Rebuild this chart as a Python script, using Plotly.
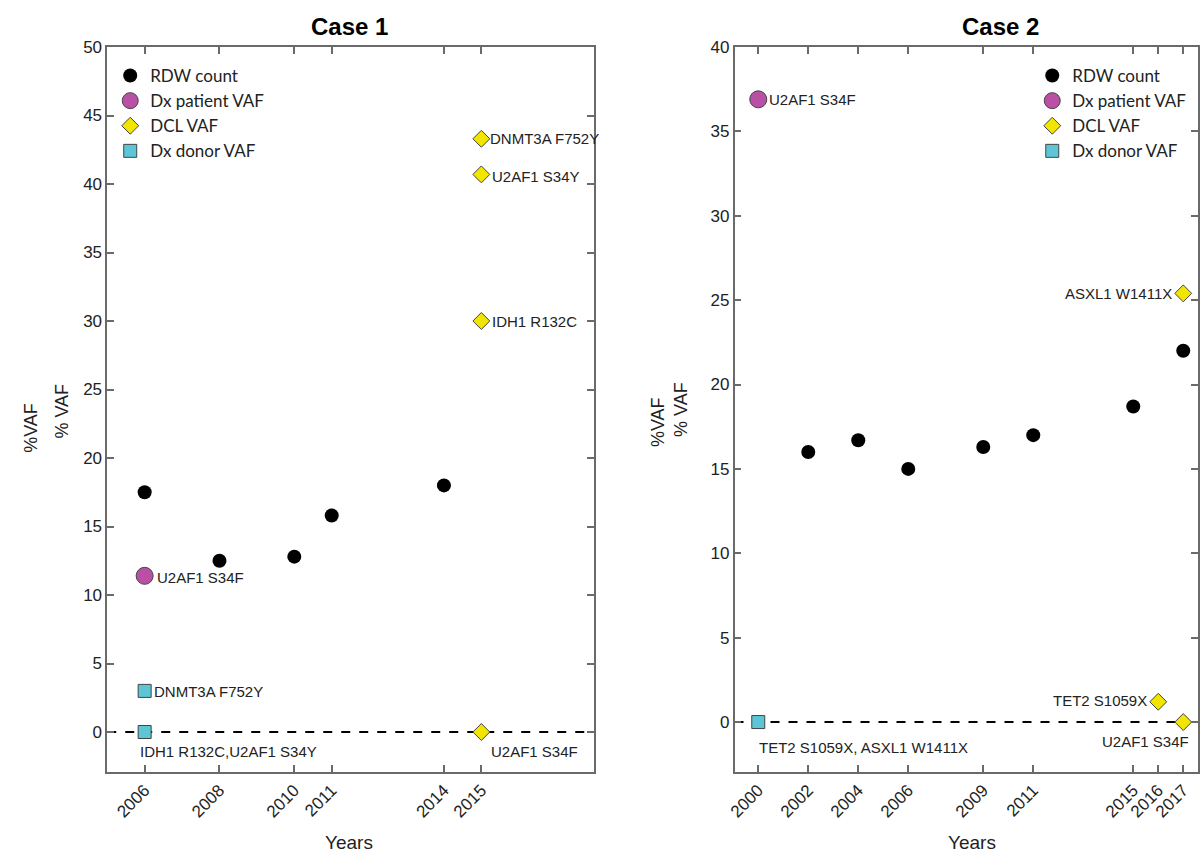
import plotly.graph_objects as go

# ---------------- Case 1 data ----------------
c1_rdw_years = [2006, 2008, 2010, 2011, 2014]
c1_rdw_vals = [17.5, 12.5, 12.8, 15.8, 18.0]
c1_pat_years = [2006]
c1_pat_vals = [11.4]
c1_pat_labels = ["U2AF1 S34F"]
c1_dcl_years = [2015, 2015, 2015, 2015]
c1_dcl_vals = [43.3, 40.7, 30.0, 0.0]
c1_dcl_labels = ["DNMT3A F752Y", "U2AF1 S34Y", "IDH1 R132C", "U2AF1 S34F"]
c1_don_years = [2006, 2006]
c1_don_vals = [3.0, 0.0]
c1_don_labels = ["DNMT3A F752Y", "IDH1 R132C,U2AF1 S34Y"]
c1_ticks = [2006, 2008, 2010, 2011, 2014, 2015]

# ---------------- Case 2 data ----------------
c2_rdw_years = [2002, 2004, 2006, 2009, 2011, 2015, 2017]
c2_rdw_vals = [16.0, 16.7, 15.0, 16.3, 17.0, 18.7, 22.0]
c2_pat_years = [2000]
c2_pat_vals = [36.9]
c2_pat_labels = ["U2AF1 S34F"]
c2_dcl_years = [2017, 2016, 2017]
c2_dcl_vals = [25.4, 1.2, 0.0]
c2_dcl_labels = ["ASXL1 W1411X", "TET2 S1059X", "U2AF1 S34F"]
c2_don_years = [2000]
c2_don_vals = [0.0]
c2_don_labels = ["TET2 S1059X, ASXL1 W1411X"]
c2_ticks = [2000, 2002, 2004, 2006, 2009, 2011, 2015, 2016, 2017]

W, H = 1200, 853
MT, MB = 47, 81
PH = H - MT - MB

def px(x):
    return x / W

def py(y):
    return (H - MB - y) / PH

BLACK = "#000000"
MAGENTA = "#BA4FA6"
YELLOW = "#F2E500"
CYAN = "#5CC6D6"
EDGE = "#444444"
AXCOL = "#6a6a6a"
LABEL_FONT = dict(family="Liberation Sans, Arial", size=15, color="#222222")

fig = go.Figure()

def add_panel(xa, ya, legend, rdw, pat, dcl, don):
    fig.add_trace(go.Scatter(x=rdw[0], y=rdw[1], mode="markers", name="RDW count",
                             marker=dict(color=BLACK, size=14, line=dict(width=0)),
                             xaxis=xa, yaxis=ya, legend=legend))
    fig.add_trace(go.Scatter(x=pat[0], y=pat[1], mode="markers", name="Dx patient VAF",
                             marker=dict(color=MAGENTA, size=17, line=dict(color=EDGE, width=1)),
                             xaxis=xa, yaxis=ya, legend=legend))
    fig.add_trace(go.Scatter(x=dcl[0], y=dcl[1], mode="markers", name="DCL VAF",
                             marker=dict(color=YELLOW, size=13, symbol="diamond",
                                         line=dict(color=EDGE, width=1)),
                             xaxis=xa, yaxis=ya, legend=legend))
    fig.add_trace(go.Scatter(x=don[0], y=don[1], mode="markers", name="Dx donor VAF",
                             marker=dict(color=CYAN, size=13, symbol="square",
                                         line=dict(color=EDGE, width=1)),
                             xaxis=xa, yaxis=ya, legend=legend))

add_panel("x", "y", "legend",
          (c1_rdw_years, c1_rdw_vals), (c1_pat_years, c1_pat_vals),
          (c1_dcl_years, c1_dcl_vals), (c1_don_years, c1_don_vals))
add_panel("x2", "y2", "legend2",
          (c2_rdw_years, c2_rdw_vals), (c2_pat_years, c2_pat_vals),
          (c2_dcl_years, c2_dcl_vals), (c2_don_years, c2_don_vals))

# dashed zero lines
for xr, yr in (("x domain", "y"), ("x2 domain", "y2")):
    fig.add_shape(type="line", xref=xr, yref=yr, x0=0, x1=1, y0=0, y1=0,
                  line=dict(color="black", width=2, dash="dash"), layer="below")

ann = []
def lab(xr, yr, x, y, text, xanchor, xshift, yshift):
    ann.append(dict(xref=xr, yref=yr, x=x, y=y, text=text, showarrow=False,
                    xanchor=xanchor, yanchor="middle", xshift=xshift, yshift=yshift,
                    font=LABEL_FONT))

# Case 1 labels
lab("x", "y", c1_pat_years[0], c1_pat_vals[0], c1_pat_labels[0], "left", 10, -2)
lab("x", "y", c1_dcl_years[0], c1_dcl_vals[0], c1_dcl_labels[0], "left", 7, 0)
lab("x", "y", c1_dcl_years[1], c1_dcl_vals[1], c1_dcl_labels[1], "left", 9, -2)
lab("x", "y", c1_dcl_years[2], c1_dcl_vals[2], c1_dcl_labels[2], "left", 9, 0)
lab("x", "y", c1_dcl_years[3], c1_dcl_vals[3], c1_dcl_labels[3], "left", 8, -19)
lab("x", "y", c1_don_years[0], c1_don_vals[0], c1_don_labels[0], "left", 7, -1)
lab("x", "y", c1_don_years[1], c1_don_vals[1], c1_don_labels[1], "left", -7, -19)
# Case 2 labels
lab("x2", "y2", c2_pat_years[0], c2_pat_vals[0], c2_pat_labels[0], "left", 9, 0)
lab("x2", "y2", c2_dcl_years[0], c2_dcl_vals[0], c2_dcl_labels[0], "right", -9, 0)
lab("x2", "y2", c2_dcl_years[1], c2_dcl_vals[1], c2_dcl_labels[1], "right", -9, 1)
lab("x2", "y2", c2_dcl_years[2], c2_dcl_vals[2], c2_dcl_labels[2], "right", 8, -19)
lab("x2", "y2", c2_don_years[0], c2_don_vals[0], c2_don_labels[0], "left", -1, -25)

TXT = dict(family="Liberation Sans, Arial", color="#222222")
# titles
ann.append(dict(xref="paper", yref="paper", x=px(345), y=py(27), text="<b>Case 1</b>",
                showarrow=False, xanchor="center", yanchor="middle",
                font=dict(size=24, family="Liberation Sans, Arial", color="black")))
ann.append(dict(xref="paper", yref="paper", x=px(1001), y=py(27), text="<b>Case 2</b>",
                showarrow=False, xanchor="center", yanchor="middle",
                font=dict(size=24, family="Liberation Sans, Arial", color="black")))
# x titles
for xc in (345, 972):
    ann.append(dict(xref="paper", yref="paper", x=px(xc), y=py(842), text="Years",
                    showarrow=False, xanchor="center", yanchor="middle",
                    font=dict(size=19, **TXT)))
# y titles (doubled as in original)
for xc, yc, t in ((24, 428, "%VAF"), (55, 411, "% VAF"), (656, 422, "%VAF"), (679, 409, "% VAF")):
    ann.append(dict(xref="paper", yref="paper", x=px(xc), y=py(yc), text=t,
                    showarrow=False, xanchor="center", yanchor="middle", textangle=-90,
                    font=dict(size=18, **TXT)))

axis_common = dict(showline=True, linecolor=AXCOL, linewidth=1.5, mirror="ticks",
                   ticks="inside", ticklen=7, tickcolor=AXCOL, tickwidth=1.5,
                   showgrid=False, zeroline=False)

fig.update_layout(
    width=W, height=H,
    margin=dict(l=0, r=0, t=MT, b=MB),
    plot_bgcolor="white", paper_bgcolor="white",
    xaxis=dict(domain=[px(101), px(591)], range=[2005.0, 2018.0],
               tickvals=c1_ticks, ticktext=[str(t) for t in c1_ticks], tickangle=-45,
               tickfont=dict(size=17, **TXT), anchor="y", **axis_common),
    yaxis=dict(domain=[0, 1], range=[-2.92, 50], tickvals=list(range(0, 51, 5)),
               tickfont=dict(size=17, **TXT), anchor="x", **axis_common),
    xaxis2=dict(domain=[px(733), 1.0], range=[1999.05, 2017.59],
                tickvals=c2_ticks, ticktext=[str(t) for t in c2_ticks], tickangle=-45,
                tickfont=dict(size=17, **TXT), anchor="y2", **axis_common),
    yaxis2=dict(domain=[0, 1], range=[-2.96, 40], tickvals=list(range(0, 41, 5)),
                tickfont=dict(size=17, **TXT), anchor="x2", **axis_common),
    legend=dict(x=px(104), y=py(58), xanchor="left", yanchor="top",
                bgcolor="rgba(0,0,0,0)", font=dict(family="Lato", size=17, color="#222222"),
                tracegroupgap=0),
    legend2=dict(x=px(1033), y=py(58), xanchor="left", yanchor="top",
                 bgcolor="rgba(0,0,0,0)", font=dict(family="Lato", size=17, color="#222222"),
                 tracegroupgap=0),
    annotations=ann,
    showlegend=True,
)

fig.write_html("out.html", config={"displayModeBar": False},
               post_script="document.body.style.margin='0';document.body.style.overflow='hidden';")
